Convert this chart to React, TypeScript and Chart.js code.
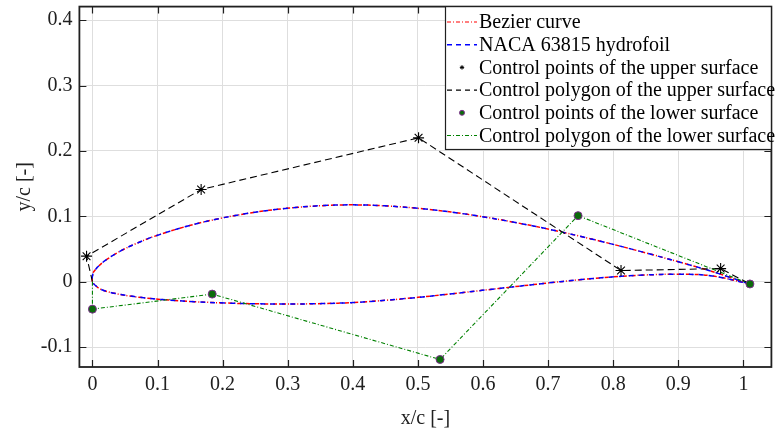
import { useEffect, useRef } from "react";
import { Chart, registerables } from "chart.js";

Chart.register(...registerables);

// NACA 63815 hydrofoil, upper surface (leading edge -> trailing edge)
const upperX = [0, 0.0011, 0.0032, 0.0076, 0.0193, 0.0435, 0.0683, 0.0933, 0.1436, 0.1943, 0.2451, 0.2961, 0.3471, 0.3981, 0.4491, 0.5, 0.5508, 0.6015, 0.6519, 0.7022, 0.7523, 0.8022, 0.8518, 0.9013, 0.9506, 1.008];
const upperY = [0, 0.0135, 0.0167, 0.022, 0.0321, 0.0471, 0.0588, 0.0687, 0.0844, 0.0964, 0.1055, 0.112, 0.116, 0.1175, 0.116, 0.1122, 0.1065, 0.099, 0.0901, 0.08, 0.0687, 0.0565, 0.0436, 0.0301, 0.016, -0.003];

// lower surface (leading edge -> trailing edge)
const lowerX = [0, 0.0089, 0.0118, 0.0174, 0.0307, 0.0565, 0.0817, 0.1067, 0.1564, 0.2057, 0.2549, 0.3039, 0.3529, 0.4019, 0.4509, 0.5, 0.5492, 0.5986, 0.6481, 0.6978, 0.7477, 0.7978, 0.8482, 0.8987, 0.9494, 1.008];
const lowerY = [0, -0.0094, -0.0111, -0.0135, -0.0172, -0.0218, -0.0249, -0.0273, -0.0306, -0.0327, -0.0339, -0.0342, -0.0335, -0.0319, -0.0284, -0.024, -0.0188, -0.0133, -0.0077, -0.0022, 0.0029, 0.0072, 0.0102, 0.0113, 0.0092, -0.003];

// Bezier control polygons
const upperCtrlX = [0, -0.009, 0.167, 0.501, 0.812, 0.965, 1.01];
const upperCtrlY = [0, 0.039, 0.141, 0.22, 0.017, 0.02, -0.0035];
const lowerCtrlX = [0, 0, 0.184, 0.534, 0.746, 1.01];
const lowerCtrlY = [0, -0.042, -0.019, -0.119, 0.101, -0.0035];

const xTicks = [0, 0.1, 0.2, 0.3, 0.4, 0.5, 0.6, 0.7, 0.8, 0.9, 1];
const yTicks = [-0.1, 0, 0.1, 0.2, 0.3, 0.4];

const legendLabels = [
  "Bezier curve",
  "NACA 63815 hydrofoil",
  "Control points of the upper surface",
  "Control polygon of the upper surface",
  "Control points of the lower surface",
  "Control polygon of the lower surface",
];

const SERIF = '"Liberation Serif", "Times New Roman", Times, serif';
const AXIS_COLOR = "#202020";
const RED = "#ff0000";
const BLUE = "#0000ff";
const GREEN = "#008000";
const DOT_FACE = "#0b6b0b";
const DOT_EDGE = "#7e2f8e";
const DASH = [7, 4];
const DASH_DOT = [4, 2, 1, 2];

const toPoints = (xs: number[], ys: number[]) => xs.map((x, i) => ({ x, y: ys[i] }));

// closed outline: trailing edge -> upper -> leading edge -> lower -> trailing edge
const foilOutline = () =>
  toPoints([...upperX].reverse(), [...upperY].reverse()).concat(
    toPoints(lowerX.slice(1), lowerY.slice(1))
  );

const fmt = (v: number) => {
  const n = Math.round(v * 10) / 10;
  return n === 0 ? "0" : String(n);
};

const frame = {
  id: "frame",
  afterDraw(chart: any) {
    const { ctx, chartArea } = chart;
    const { left, right, top, bottom } = chartArea;
    const xs = chart.scales.x;
    const ys = chart.scales.y;
    const len = 7;
    ctx.save();
    ctx.strokeStyle = AXIS_COLOR;
    ctx.lineWidth = 1.2;
    ctx.setLineDash([]);
    ctx.beginPath();
    xTicks.forEach((v) => {
      const px = Math.round(xs.getPixelForValue(v)) + 0.5;
      ctx.moveTo(px, bottom);
      ctx.lineTo(px, bottom - len);
      ctx.moveTo(px, top);
      ctx.lineTo(px, top + len);
    });
    yTicks.forEach((v) => {
      const py = Math.round(ys.getPixelForValue(v)) + 0.5;
      ctx.moveTo(left, py);
      ctx.lineTo(left + len, py);
      ctx.moveTo(right, py);
      ctx.lineTo(right - len, py);
    });
    ctx.stroke();
    ctx.lineWidth = 1.8;
    ctx.strokeRect(left, top, right - left, bottom - top);
    ctx.restore();
  },
};

const boxLegend = {
  id: "boxLegend",
  afterDraw(chart: any) {
    const { ctx, chartArea } = chart;
    const left = 445.5;
    const top = chartArea.top;
    const right = chartArea.right;
    const bottom = 149.5;
    const rowH = 22.7;
    const firstRow = 22;
    const lineStart = 447;
    const lineEnd = 477;
    const textX = 479;
    ctx.save();
    ctx.fillStyle = "#ffffff";
    ctx.fillRect(left, top, right - left, bottom - top);
    ctx.strokeStyle = AXIS_COLOR;
    ctx.lineWidth = 1.2;
    ctx.strokeRect(left, top, right - left, bottom - top);

    const sample = (y: number, color: string, dash: number[], width: number) => {
      ctx.save();
      ctx.strokeStyle = color;
      ctx.lineWidth = width;
      ctx.setLineDash(dash);
      ctx.beginPath();
      ctx.moveTo(lineStart, y);
      ctx.lineTo(lineEnd, y);
      ctx.stroke();
      ctx.restore();
    };
    const mid = (lineStart + lineEnd) / 2;

    legendLabels.forEach((label, i) => {
      const y = firstRow + i * rowH;
      if (i === 0) sample(y, RED, DASH_DOT, 1.2);
      if (i === 1) sample(y, BLUE, [5, 4], 1.4);
      if (i === 2) {
        ctx.save();
        ctx.strokeStyle = "#000";
        ctx.lineWidth = 1;
        const r = 2.2;
        ctx.beginPath();
        ctx.moveTo(mid - r, y);
        ctx.lineTo(mid + r, y);
        ctx.moveTo(mid, y - r);
        ctx.lineTo(mid, y + r);
        ctx.moveTo(mid - r * 0.7, y - r * 0.7);
        ctx.lineTo(mid + r * 0.7, y + r * 0.7);
        ctx.moveTo(mid - r * 0.7, y + r * 0.7);
        ctx.lineTo(mid + r * 0.7, y - r * 0.7);
        ctx.stroke();
        ctx.restore();
      }
      if (i === 3) sample(y, "#000000", [5, 4], 1.1);
      if (i === 4) {
        ctx.save();
        ctx.fillStyle = DOT_FACE;
        ctx.strokeStyle = DOT_EDGE;
        ctx.lineWidth = 1;
        ctx.beginPath();
        ctx.arc(mid, y, 2.5, 0, Math.PI * 2);
        ctx.fill();
        ctx.stroke();
        ctx.restore();
      }
      if (i === 5) sample(y, GREEN, DASH_DOT, 1.1);
      ctx.fillStyle = "#000000";
      ctx.font = `20px ${SERIF}`;
      ctx.textAlign = "left";
      ctx.textBaseline = "middle";
      ctx.fillText(label, textX, y + 1);
    });
    ctx.restore();
  },
};

export default function App() {
  const canvasRef = useRef<HTMLCanvasElement | null>(null);

  useEffect(() => {
    if (!canvasRef.current) return;
    const outline = foilOutline();
    const chart = new Chart(canvasRef.current, {
      type: "scatter",
      data: {
        datasets: [
          {
            label: legendLabels[4],
            data: toPoints(lowerCtrlX.slice(1), lowerCtrlY.slice(1)),
            showLine: false,
            pointRadius: 4,
            pointBackgroundColor: DOT_FACE,
            pointBorderColor: DOT_EDGE,
            pointBorderWidth: 1,
            order: 0,
          },
          {
            label: legendLabels[2],
            data: toPoints(upperCtrlX.slice(1, -1), upperCtrlY.slice(1, -1)),
            showLine: false,
            pointStyle: "star",
            pointRadius: 5.5,
            pointBorderColor: "#000000",
            pointBackgroundColor: "#000000",
            pointBorderWidth: 1.1,
            order: 1,
          },
          {
            label: legendLabels[5],
            data: toPoints(lowerCtrlX, lowerCtrlY),
            showLine: true,
            borderColor: GREEN,
            borderWidth: 1.1,
            borderDash: DASH_DOT,
            pointRadius: 0,
            tension: 0,
            order: 2,
          },
          {
            label: legendLabels[3],
            data: toPoints(upperCtrlX, upperCtrlY),
            showLine: true,
            borderColor: "#000000",
            borderWidth: 1.1,
            borderDash: DASH,
            pointRadius: 0,
            tension: 0,
            order: 3,
          },
          {
            label: legendLabels[1],
            data: outline,
            showLine: true,
            borderColor: BLUE,
            borderWidth: 1.5,
            borderDash: [5, 5],
            pointRadius: 0,
            tension: 0.35,
            order: 4,
          },
          {
            label: legendLabels[0],
            data: outline,
            showLine: true,
            borderColor: RED,
            borderWidth: 1.5,
            borderDash: DASH_DOT,
            pointRadius: 0,
            tension: 0.35,
            order: 5,
          },
        ],
      },
      options: {
        animation: false,
        responsive: true,
        maintainAspectRatio: false,
        devicePixelRatio: 1,
        layout: { padding: { left: 0, top: 5.7, right: 1.3, bottom: 0 } },
        plugins: {
          legend: { display: false },
          tooltip: { enabled: false },
          title: { display: false },
        },
        scales: {
          x: {
            type: "linear",
            min: -0.02,
            max: 1.043,
            afterFit: (s: any) => {
              s.height = 64;
              s.paddingLeft = 0;
              s.paddingRight = 0;
            },
            ticks: {
              stepSize: 0.1,
              includeBounds: false,
              autoSkip: false,
              maxRotation: 0,
              padding: 6,
              color: AXIS_COLOR,
              font: { family: SERIF, size: 20 },
              callback: (v: any) => fmt(Number(v)),
            },
            grid: { color: "#dedede", lineWidth: 1, drawTicks: false },
            border: { display: false },
            title: {
              display: true,
              text: "x/c [-]",
              color: AXIS_COLOR,
              font: { family: SERIF, size: 20 },
              padding: { top: 0, bottom: 0 },
            },
          },
          y: {
            type: "linear",
            min: -0.1305,
            max: 0.4207,
            afterFit: (s: any) => {
              s.width = 79.4;
              s.paddingTop = 0;
              s.paddingBottom = 0;
            },
            ticks: {
              stepSize: 0.1,
              includeBounds: false,
              autoSkip: false,
              padding: 7,
              color: AXIS_COLOR,
              font: { family: SERIF, size: 20 },
              callback: (v: any) => fmt(Number(v)),
            },
            grid: { color: "#dedede", lineWidth: 1, drawTicks: false },
            border: { display: false },
            title: {
              display: true,
              text: "y/c [-]",
              color: AXIS_COLOR,
              font: { family: SERIF, size: 20 },
              padding: { top: 13, bottom: 0 },
            },
          },
        },
      },
      plugins: [frame, boxLegend],
    });
    return () => chart.destroy();
  }, []);

  return (
    <div
      style={{
        position: "absolute",
        left: 0,
        top: 0,
        width: 778,
        height: 431,
        background: "#ffffff",
      }}
    >
      <canvas ref={canvasRef} />
    </div>
  );
}
